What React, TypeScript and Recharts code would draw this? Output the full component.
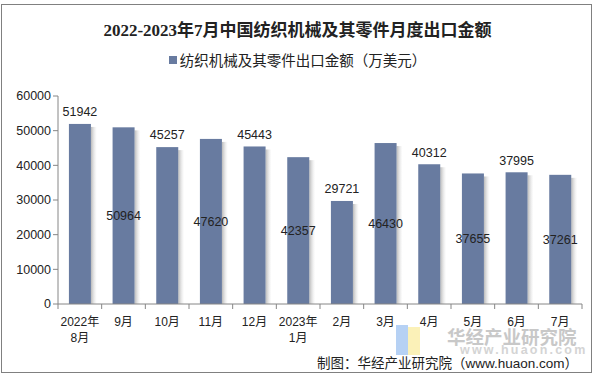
import { BarChart, Bar, XAxis, YAxis, LabelList } from "recharts";

const months = [
  "2022年\n8月",
  "9月",
  "10月",
  "11月",
  "12月",
  "2023年\n1月",
  "2月",
  "3月",
  "4月",
  "5月",
  "6月",
  "7月",
];
const exportValues = [51942, 50964, 45257, 47620, 45443, 42357, 29721, 46430, 40312, 37655, 37995, 37261];
const yTicks = [0, 10000, 20000, 30000, 40000, 50000, 60000];

const data = months.map((m, i) => ({ month: m, value: exportValues[i] }));

const BAR = "#687ba0";
const NUM_FONT = "'Liberation Sans', Arial, 'Noto Sans CJK SC', sans-serif";
const CJK_FONT = "'Liberation Sans', 'Noto Sans CJK SC', sans-serif";

function ShadowBar(props: any) {
  const { x, y, width, height } = props;
  if (height <= 0) return null;
  return (
    <g>
      <rect x={x + width} y={y + 3} width={6} height={height - 3} fill="url(#barShadow)" />
      <rect x={x} y={y} width={width} height={height} fill={BAR} />
    </g>
  );
}

function MonthTick(props: any) {
  const { x, y, payload } = props;
  const lines = String(payload.value).split("\n");
  return (
    <text x={x} y={y} textAnchor="middle" fill="#222" fontSize={12} fontFamily={CJK_FONT}>
      {lines.map((l, i) => (
        <tspan key={i} x={x} dy={i === 0 ? 14 : 16}>
          {l}
        </tspan>
      ))}
    </text>
  );
}

function ValueLabel(props: any) {
  const { x, y, width, height, value, index } = props;
  const cx = x + width / 2;
  const cy = index % 2 === 0 ? y - 12 : y + height / 2;
  return (
    <text
      x={cx}
      y={cy}
      dy="0.35em"
      textAnchor="middle"
      fill="#222"
      fontSize={12.5}
      fontFamily={NUM_FONT}
    >
      {value}
    </text>
  );
}

export default function App() {
  return (
    <div
      style={{
        position: "absolute",
        left: 0,
        top: 0,
        width: 595,
        height: 378,
        background: "#fff",
        overflow: "hidden",
      }}
    >
      <div
        style={{
          position: "absolute",
          left: 1,
          top: 4,
          width: 591,
          height: 369,
          border: "1px solid #808080",
          boxSizing: "border-box",
        }}
      />
      <div
        style={{
          position: "absolute",
          top: 16,
          left: 0,
          width: 595,
          textAlign: "center",
          fontFamily: "'Liberation Serif', 'Noto Sans CJK SC', serif",
          fontWeight: "bold",
          fontSize: 17,
          color: "#222",
        }}
      >
        2022-2023年7月中国纺织机械及其零件月度出口金额
      </div>
      <div
        style={{
          position: "absolute",
          top: 49,
          left: 0,
          width: 595,
          display: "flex",
          justifyContent: "center",
          alignItems: "center",
          fontFamily: CJK_FONT,
          fontSize: 14.5,
          color: "#222",
        }}
      >
        <span style={{ width: 8, height: 8, background: BAR, marginRight: 3 }} />
        纺织机械及其零件出口金额（万美元）
      </div>

      <BarChart
        width={595}
        height={378}
        data={data}
        margin={{ top: 96, right: 13, bottom: 0, left: 0 }}
        barCategoryGap="25%"
        style={{ position: "absolute", left: 0, top: 0 }}
      >
        <defs>
          <linearGradient id="barShadow" x1="0" y1="0" x2="1" y2="0">
            <stop offset="0%" stopColor="#8a8a8a" stopOpacity={0.6} />
            <stop offset="100%" stopColor="#d0d0d0" stopOpacity={0} />
          </linearGradient>
        </defs>
        <XAxis
          dataKey="month"
          height={74}
          interval={0}
          axisLine={{ stroke: "#868686" }}
          tickLine={false}
          tick={<MonthTick />}
        />
        <YAxis
          width={58}
          domain={[0, 60000]}
          ticks={yTicks}
          interval={0}
          axisLine={{ stroke: "#868686" }}
          tickLine={{ stroke: "#868686" }}
          tickSize={5}
          tick={{ fill: "#222", fontSize: 12.5, fontFamily: NUM_FONT }}
        />
        <Bar dataKey="value" shape={<ShadowBar />} isAnimationActive={false}>
          <LabelList dataKey="value" content={<ValueLabel />} />
        </Bar>
      </BarChart>

      {/* category boundary ticks + watermark logo */}
      <svg
        width={595}
        height={378}
        style={{ position: "absolute", left: 0, top: 0, pointerEvents: "none" }}
      >
        {months.map((_, i) => {
          const step = (582 - 58) / months.length;
          const x = 58 + step * (i + 1);
          return <line key={i} x1={x} y1={304} x2={x} y2={309} stroke="#868686" />;
        })}
        <line x1={58} y1={304} x2={58} y2={309} stroke="#868686" />
        <rect x={396} y={325} width={12} height={30} fill="#a9c9f2" opacity={0.85} />
        <rect x={408} y={327} width={12} height={28} fill="#fbefb0" opacity={0.9} />
      </svg>

      <div
        style={{
          position: "absolute",
          left: 447,
          top: 323,
          fontFamily: CJK_FONT,
          fontWeight: "bold",
          fontSize: 18.5,
          color: "#c8c8c8",
          whiteSpace: "nowrap",
        }}
      >
        华经产业研究院
      </div>
      <div
        style={{
          position: "absolute",
          left: 460,
          top: 343,
          fontFamily: NUM_FONT,
          fontWeight: "bold",
          fontSize: 12.5,
          color: "#d4d4d4",
          letterSpacing: 2.2,
          whiteSpace: "nowrap",
        }}
      >
        www.huaon.com
      </div>
      <div
        style={{
          position: "absolute",
          right: 17,
          top: 352,
          fontFamily: CJK_FONT,
          fontSize: 13.5,
          color: "#222",
          whiteSpace: "nowrap",
        }}
      >
        制图：华经产业研究院（www.huaon.com）
      </div>
    </div>
  );
}
